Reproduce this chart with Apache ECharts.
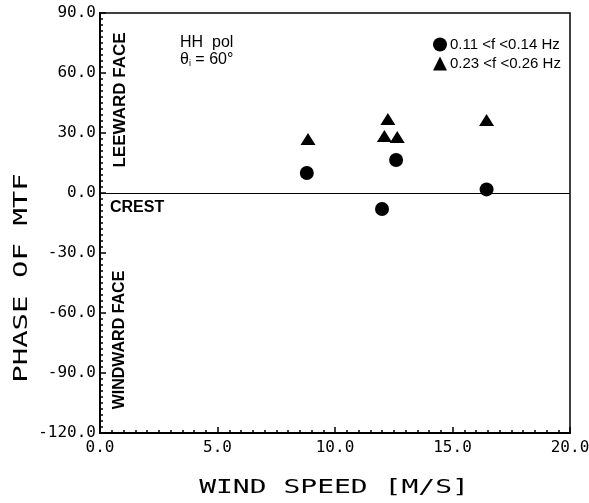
<!DOCTYPE html>
<html>
<head>
<meta charset="utf-8">
<script src="https://cdn.jsdelivr.net/npm/echarts@6/dist/echarts.min.js"></script>
<style>
  html, body { margin: 0; padding: 0; background: #fff; }
  #main { width: 589px; height: 503px; }
</style>
</head>
<body>
<div id="main"></div>
<script>
// wind speed [m/s] and phase of MTF [deg]
var windLow = [8.8, 12.6, 12.0, 16.45]
var phaseLow = [10, 16.5, -8, 1.8]
var windHigh = [8.85, 12.25, 12.1, 12.65, 16.45]
var phaseHigh = [27, 37, 28.5, 28, 36.5]
var seriesNames = ['0.11 <f <0.14 Hz', '0.23 <f <0.26 Hz']
var xTicks = { min: 0, max: 20, interval: 5 }
var yTicks = { min: -120, max: 90, interval: 30 }

var chart = echarts.init(document.getElementById('main'), null, { renderer: 'canvas' })

function pairs(xs, ys) {
  return xs.map(function (x, i) { return [x, ys[i]] })
}

var monoFont = 'DejaVu Sans Mono'
var labelFont = 'Liberation Sans'

var option = {
  backgroundColor: '#fff',
  animation: false,
  grid: {
    left: 100, right: 19, top: 13, bottom: 70,
    outerBoundsMode: 'none',
    show: true,
    borderColor: '#000',
    borderWidth: 1.5
  },
  legend: {
    orient: 'vertical',
    left: 428, top: 32,
    itemGap: 4,
    itemWidth: 14, itemHeight: 14,
    textStyle: { fontFamily: labelFont, fontSize: 15, color: '#000', padding: [0, 0, 0, -2] },
    data: [
      { name: seriesNames[0], icon: 'circle' },
      { name: seriesNames[1], icon: 'triangle' }
    ]
  },
  xAxis: {
    type: 'value',
    min: xTicks.min, max: xTicks.max, interval: xTicks.interval,
    axisLine: { show: true, onZero: false, lineStyle: { color: '#000', width: 2 } },
    axisTick: { show: true, inside: true, length: 6, lineStyle: { color: '#000', width: 1.5 } },
    minorTick: { show: true, splitNumber: 10, length: 3, lineStyle: { color: '#000', width: 1.5 } },
    splitLine: { show: false },
    axisLabel: {
      color: '#000', fontFamily: monoFont, fontSize: 16, margin: 7,
      formatter: function (v) { return v.toFixed(1) }
    }
  },
  yAxis: {
    type: 'value',
    min: yTicks.min, max: yTicks.max, interval: yTicks.interval,
    axisLine: { show: true, onZero: false, lineStyle: { color: '#000', width: 2 } },
    axisTick: { show: true, inside: true, length: 6, lineStyle: { color: '#000', width: 1.5 } },
    minorTick: { show: true, splitNumber: 10, length: 3, lineStyle: { color: '#000', width: 1.5 } },
    splitLine: { show: false },
    axisLabel: {
      color: '#000', fontFamily: monoFont, fontSize: 16, margin: 4,
      formatter: function (v) { return v.toFixed(1) }
    }
  },
  series: [
    {
      name: seriesNames[0],
      type: 'scatter',
      symbol: 'circle',
      symbolSize: 14,
      itemStyle: { color: '#000', opacity: 1 },
      data: pairs(windLow, phaseLow),
      markLine: {
        silent: true,
        symbol: ['none', 'none'],
        label: { show: false },
        lineStyle: { color: '#000', width: 1.2, type: 'solid' },
        data: [{ yAxis: 0 }]
      }
    },
    {
      name: seriesNames[1],
      type: 'scatter',
      symbol: 'triangle',
      symbolSize: [15, 12],
      itemStyle: { color: '#000', opacity: 1 },
      data: pairs(windHigh, phaseHigh)
    }
  ],
  graphic: [
    {
      type: 'text', x: 22, y: 278, rotation: Math.PI / 2, scaleX: 1.45,
      style: { text: 'PHASE OF MTF', fontFamily: monoFont, fontSize: 20, fill: '#000', align: 'center', verticalAlign: 'middle' }
    },
    {
      type: 'text', x: 334, y: 488, scaleX: 1.4,
      style: { text: 'WIND SPEED [M/S]', fontFamily: monoFont, fontSize: 20, fill: '#000', align: 'center', verticalAlign: 'middle' }
    },
    {
      type: 'text', x: 120, y: 100, rotation: Math.PI / 2,
      style: { text: 'LEEWARD FACE', fontFamily: labelFont, fontWeight: 'bold', fontSize: 17, fill: '#000', align: 'center', verticalAlign: 'middle' }
    },
    {
      type: 'text', x: 120, y: 340, rotation: Math.PI / 2,
      style: { text: 'WINDWARD FACE', fontFamily: labelFont, fontWeight: 'bold', fontSize: 16, fill: '#000', align: 'center', verticalAlign: 'middle' }
    },
    {
      type: 'text', x: 110, y: 208,
      style: { text: 'CREST', fontFamily: labelFont, fontWeight: 'bold', fontSize: 16, fill: '#000', align: 'left', verticalAlign: 'middle' }
    },
    {
      type: 'text', x: 180, y: 43,
      style: { text: 'HH  pol', fontFamily: labelFont, fontSize: 16, fill: '#000', align: 'left', verticalAlign: 'middle' }
    },
    {
      type: 'text', x: 180, y: 60,
      style: {
        text: '{a|θ}{s|i}{a| = 60°}',
        align: 'left', verticalAlign: 'middle',
        rich: {
          a: { fontFamily: labelFont, fontSize: 16, fill: '#000', color: '#000' },
          s: { fontFamily: labelFont, fontSize: 9, fill: '#000', color: '#000', verticalAlign: 'bottom', padding: [6, 0, 0, 0] }
        }
      }
    }
  ]
}
chart.setOption(option)
</script>
</body>
</html>
